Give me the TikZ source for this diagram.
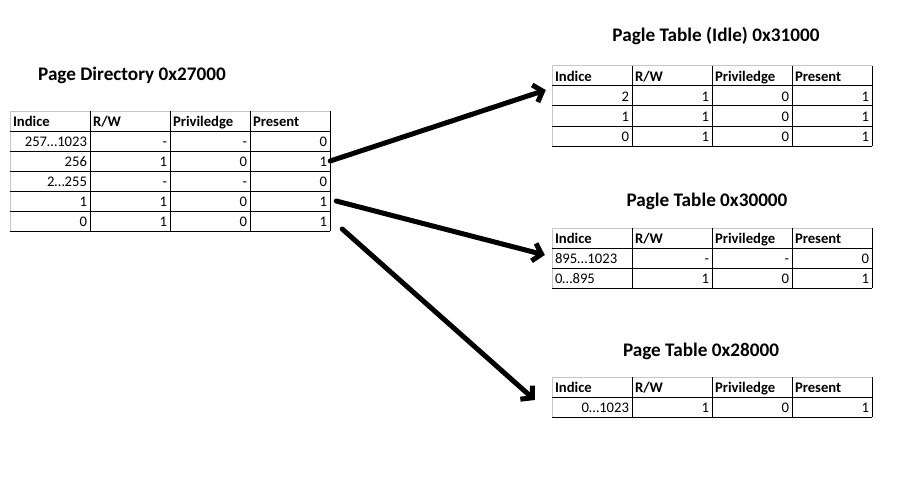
\documentclass[tikz,border=0pt]{standalone}
\usepackage{fontspec}
\setmainfont{Carlito}
\usetikzlibrary{arrows.meta}
\begin{document}
\begin{tikzpicture}[x=1pt,y=-1pt,
	cell/.style={inner xsep=3pt,inner ysep=0pt,text width=74pt,text height=15.5pt,text depth=4.5pt,font=\fontsize{14.67}{17}\selectfont},
	num/.style={cell,align=right},
	txt/.style={cell,align=left},
	head/.style={cell,align=left,font=\fontsize{14.67}{17}\selectfont\bfseries},
	title/.style={font=\fontsize{19.2}{23}\selectfont\bfseries},
	rule/.style={line width=1pt},
	grid/.style={line width=1pt,draw=gray!45},
	pointer/.style={line width=5pt,line cap=round,-{Straight Barb[length=8pt,width=18pt]}}]
	\useasboundingbox (0,0) rectangle (919,503);

	% page directory
	\node[title] (pd-title) at (132,75) {Page Directory 0x27000};
	\draw[grid] (10,231) -- (10,111) -- (330,111);
	\foreach \x in {90,170,250,330} \draw[rule] (\x,111) -- (\x,231);
	\foreach \y in {131,151,...,231} \draw[rule] (10,\y) -- (330,\y);
	\node[head] (pd-0-1) at (50,121) {Indice};
	\node[head] (pd-0-2) at (130,121) {R/W};
	\node[head] (pd-0-3) at (210,121) {Priviledge};
	\node[head] (pd-0-4) at (290,121) {Present};
	\foreach \r/\a/\b/\c/\d in {1/257…1023/-/-/0, 2/256/1/0/1, 3/2…255/-/-/0, 4/1/1/0/1, 5/0/1/0/1} {
		\node[num] (pd-\r-1) at (50,{121+20*\r}) {\a};
		\node[num] (pd-\r-2) at (130,{121+20*\r}) {\b};
		\node[num] (pd-\r-3) at (210,{121+20*\r}) {\c};
		\node[num] (pd-\r-4) at (290,{121+20*\r}) {\d};
	}

	% page table (idle)
	\node[title] (it-title) at (716,36) {Pagle Table (Idle) 0x31000};
	\draw[grid] (552,146) -- (552,66) -- (872,66);
	\foreach \x in {632,712,792,872} \draw[rule] (\x,66) -- (\x,146);
	\foreach \y in {86,106,...,146} \draw[rule] (552,\y) -- (872,\y);
	\node[head] (it-0-1) at (592,76) {Indice};
	\node[head] (it-0-2) at (672,76) {R/W};
	\node[head] (it-0-3) at (752,76) {Priviledge};
	\node[head] (it-0-4) at (832,76) {Present};
	\foreach \r/\a in {1/2, 2/1, 3/0} {
		\node[num] (it-\r-1) at (592,{76+20*\r}) {\a};
		\node[num] (it-\r-2) at (672,{76+20*\r}) {1};
		\node[num] (it-\r-3) at (752,{76+20*\r}) {0};
		\node[num] (it-\r-4) at (832,{76+20*\r}) {1};
	}

	% page table 0x30000
	\node[title] (pt3-title) at (707,201) {Pagle Table 0x30000};
	\draw[grid] (552,288) -- (552,228) -- (872,228);
	\foreach \x in {632,712,792,872} \draw[rule] (\x,228) -- (\x,288);
	\foreach \y in {248,268,288} \draw[rule] (552,\y) -- (872,\y);
	\node[head] (pt3-0-1) at (592,238) {Indice};
	\node[head] (pt3-0-2) at (672,238) {R/W};
	\node[head] (pt3-0-3) at (752,238) {Priviledge};
	\node[head] (pt3-0-4) at (832,238) {Present};
	\node[txt] (pt3-1-1) at (592,258) {895…1023};
	\node[num] (pt3-1-2) at (672,258) {-};
	\node[num] (pt3-1-3) at (752,258) {-};
	\node[num] (pt3-1-4) at (832,258) {0};
	\node[txt] (pt3-2-1) at (592,278) {0…895};
	\node[num] (pt3-2-2) at (672,278) {1};
	\node[num] (pt3-2-3) at (752,278) {0};
	\node[num] (pt3-2-4) at (832,278) {1};

	% page table 0x28000
	\node[title] (pt4-title) at (701,351) {Page Table 0x28000};
	\draw[grid] (552,417) -- (552,377) -- (872,377);
	\foreach \x in {632,712,792,872} \draw[rule] (\x,377) -- (\x,417);
	\foreach \y in {397,417} \draw[rule] (552,\y) -- (872,\y);
	\node[head] (pt4-0-1) at (592,387) {Indice};
	\node[head] (pt4-0-2) at (672,387) {R/W};
	\node[head] (pt4-0-3) at (752,387) {Priviledge};
	\node[head] (pt4-0-4) at (832,387) {Present};
	\node[num] (pt4-1-1) at (592,407) {0…1023};
	\node[num] (pt4-1-2) at (672,407) {1};
	\node[num] (pt4-1-3) at (752,407) {0};
	\node[num] (pt4-1-4) at (832,407) {1};

	% pointers
	\draw[pointer] (pd-2-4.east) -- ([shift={(-6,-6)}]it-1-1.west);
	\draw[pointer] ([xshift=6pt]pd-4-4.east) -- ([shift={(-7,-3)}]pt3-1-1.west);
	\draw[pointer] ([shift={(12,8)}]pd-5-4.east) -- ([shift={(-17,-7)}]pt4-1-1.west);
\end{tikzpicture}
\end{document}
